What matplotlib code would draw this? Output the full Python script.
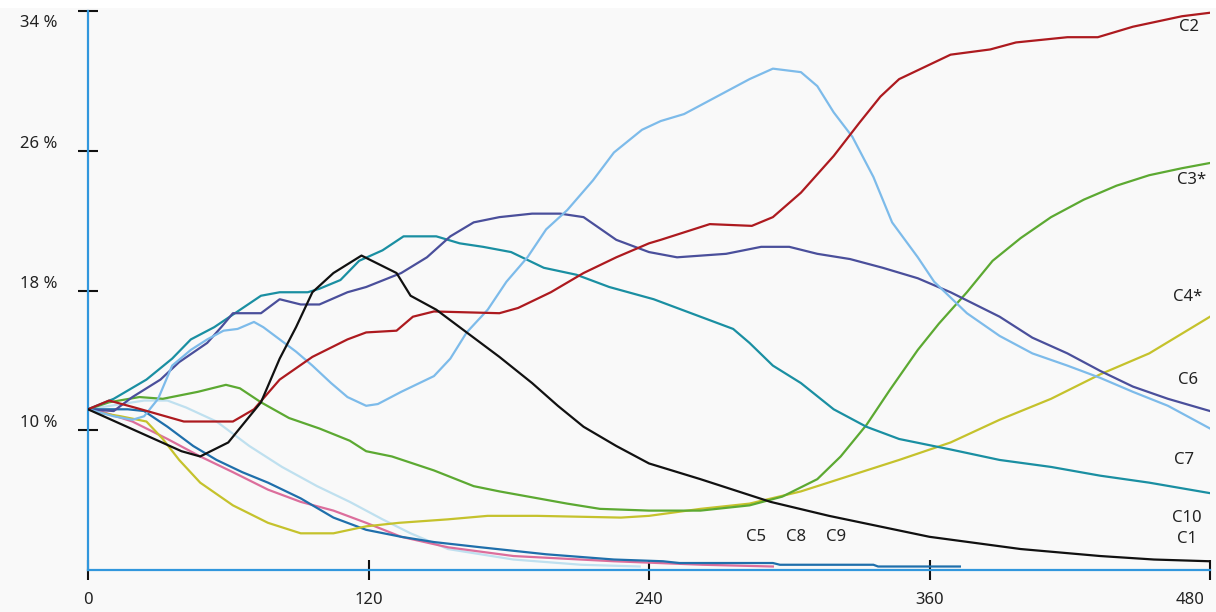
import matplotlib
matplotlib.use("Agg")
import matplotlib.pyplot as plt
from matplotlib.transforms import ScaledTranslation
from matplotlib.patches import Rectangle

plt.rcParams['font.family'] = ['Noto Sans', 'DejaVu Sans']

# series values (x = step, y = percent)
c1_x = [0, 20, 40, 48, 60, 74, 82, 89, 96, 105, 117, 132, 138, 149, 162, 176, 190, 201, 212, 226, 240,
        262, 292, 317, 360, 399, 433, 456, 480]
c1_y = [11.2, 10.0, 8.8, 8.5, 9.3, 11.6, 14.1, 15.9, 17.9, 19.0, 20.0, 19.0, 17.7, 16.9, 15.6, 14.2, 12.7,
        11.4, 10.2, 9.1, 8.1, 7.2, 5.9, 5.1, 3.9, 3.2, 2.8, 2.6, 2.5]

c2_x = [0, 9, 20, 41, 62, 71, 82, 96, 111, 119, 132, 139, 148, 176, 184, 198, 212, 226, 240, 245, 266,
        284, 293, 305, 319, 330, 339, 347, 369, 386, 397, 419, 432, 447, 468, 480]
c2_y = [11.2, 11.7, 11.3, 10.5, 10.5, 11.2, 12.9, 14.2, 15.2, 15.6, 15.7, 16.5, 16.8, 16.7, 17.0, 17.9,
        19.0, 19.9, 20.7, 20.9, 21.8, 21.7, 22.2, 23.6, 25.7, 27.6, 29.1, 30.1, 31.5, 31.8, 32.2, 32.5,
        32.5, 33.1, 33.7, 33.9]

c3_x = [0, 9, 22, 32, 47, 59, 65, 74, 86, 99, 112, 119, 130, 148, 165, 176, 205, 219, 240, 262, 283,
        297, 312, 322, 333, 343, 355, 364, 376, 387, 399, 412, 426, 440, 454, 468, 480]
c3_y = [11.2, 11.6, 11.9, 11.8, 12.2, 12.6, 12.4, 11.6, 10.7, 10.1, 9.4, 8.8, 8.5, 7.7, 6.8, 6.5, 5.8,
        5.5, 5.4, 5.4, 5.7, 6.2, 7.2, 8.5, 10.3, 12.3, 14.6, 16.1, 17.9, 19.7, 21.0, 22.2, 23.2, 24.0,
        24.6, 25.0, 25.3]

c4_x = [0, 5, 14, 25, 32, 39, 48, 62, 77, 91, 105, 119, 133, 154, 171, 192, 228, 240, 262, 283, 305,
        326, 347, 369, 390, 412, 433, 454, 480]
c4_y = [11.2, 11.0, 10.8, 10.5, 9.5, 8.3, 7.0, 5.7, 4.7, 4.1, 4.1, 4.5, 4.7, 4.9, 5.1, 5.1, 5.0, 5.1,
        5.5, 5.8, 6.5, 7.4, 8.3, 9.3, 10.6, 11.8, 13.2, 14.4, 16.5]

c5_x = [0, 17, 24, 34, 45, 55, 66, 77, 91, 105, 119, 134, 148, 168, 196, 225, 246, 253, 293, 296, 336,
        338, 373]
c5_y = [11.2, 11.2, 11.1, 10.2, 9.1, 8.3, 7.6, 7.0, 6.1, 5.0, 4.3, 3.9, 3.6, 3.3, 2.9, 2.6, 2.5, 2.4,
        2.4, 2.3, 2.3, 2.2, 2.2]

c6_x = [0, 11, 19, 31, 39, 51, 57, 62, 74, 82, 91, 99, 111, 119, 134, 145, 155, 165, 176, 190, 202,
        212, 226, 240, 252, 273, 288, 300, 312, 326, 340, 355, 369, 390, 404, 419, 433, 447, 462, 480]
c6_y = [11.2, 11.1, 11.9, 12.9, 13.9, 15.0, 15.9, 16.7, 16.7, 17.5, 17.2, 17.2, 17.9, 18.2, 19.0, 19.9,
        21.1, 21.9, 22.2, 22.4, 22.4, 22.2, 20.9, 20.2, 19.9, 20.1, 20.5, 20.5, 20.1, 19.8, 19.3, 18.7,
        17.9, 16.5, 15.3, 14.4, 13.4, 12.5, 11.8, 11.1]

c7_x = [0, 11, 19, 24, 30, 36, 44, 51, 58, 64, 71, 75, 82, 89, 96, 104, 111, 119, 124, 134, 148, 155,
        162, 171, 179, 188, 196, 205, 216, 225, 237, 245, 255, 269, 283, 293, 305, 312, 319, 327, 336,
        344, 355, 362, 376, 390, 404, 419, 433, 447, 462, 480]
c7_y = [11.2, 10.8, 10.6, 10.8, 11.8, 13.7, 14.6, 15.2, 15.7, 15.8, 16.2, 15.9, 15.2, 14.5, 13.7, 12.7,
        11.9, 11.4, 11.5, 12.2, 13.1, 14.1, 15.6, 16.9, 18.5, 19.9, 21.5, 22.6, 24.3, 25.9, 27.2, 27.7,
        28.1, 29.1, 30.1, 30.7, 30.5, 29.7, 28.2, 26.8, 24.5, 21.9, 19.9, 18.5, 16.7, 15.4, 14.4, 13.7,
        13.0, 12.2, 11.4, 10.1]

c8_x = [0, 5, 19, 34, 48, 62, 77, 91, 105, 119, 134, 154, 182, 225, 263, 293]
c8_y = [11.2, 11.1, 10.5, 9.5, 8.5, 7.6, 6.6, 5.9, 5.4, 4.7, 3.9, 3.3, 2.8, 2.5, 2.3, 2.2]

c9_x = [0, 24, 34, 42, 55, 69, 83, 98, 112, 126, 138, 154, 182, 211, 236]
c9_y = [11.2, 11.7, 11.7, 11.3, 10.5, 9.1, 7.9, 6.8, 5.9, 4.9, 4.1, 3.2, 2.6, 2.3, 2.2]

c10_x = [0, 11, 25, 36, 44, 54, 64, 74, 82, 94, 99, 108, 116, 126, 135, 149, 159, 169, 181, 195, 209,
         223, 242, 262, 276, 283, 293, 305, 319, 333, 347, 369, 390, 412, 433, 454, 480]
c10_y = [11.2, 11.8, 12.9, 14.1, 15.2, 15.9, 16.8, 17.7, 17.9, 17.9, 18.1, 18.6, 19.7, 20.3, 21.1, 21.1,
         20.7, 20.5, 20.2, 19.3, 18.9, 18.2, 17.5, 16.5, 15.8, 15.0, 13.7, 12.7, 11.2, 10.2, 9.5, 8.9,
         8.3, 7.9, 7.4, 7.0, 6.4]

names = ['C1', 'C2', 'C3*', 'C4*', 'C5', 'C6', 'C7', 'C8', 'C9', 'C10']
xs = [c1_x, c2_x, c3_x, c4_x, c5_x, c6_x, c7_x, c8_x, c9_x, c10_x]
ys = [c1_y, c2_y, c3_y, c4_y, c5_y, c6_y, c7_y, c8_y, c9_y, c10_y]
colors = ['#111111', '#ad1a1f', '#5ca932', '#c5c22c', '#1f6fab',
          '#4a4f9b', '#7dbbea', '#dc6e9c', '#bfe0ef', '#1a8fa2']

# where the series names sit (data coords)
label_pos = {'C1': (470, 3.8), 'C2': (471, 33.1), 'C3*': (472, 24.3), 'C4*': (470.5, 17.6),
             'C5': (286, 3.9), 'C6': (470.5, 12.9), 'C7': (469, 8.3), 'C8': (303, 3.9),
             'C9': (320, 3.9), 'C10': (470, 5.0)}

x_ticks = [0, 120, 240, 360, 480]
y_ticks = [10, 18, 26, 34]

bg = '#f9f9f9'
fig = plt.figure(figsize=(12.16, 6.12), dpi=100, facecolor=bg)
# thin white strip along the top edge
fig.patches.append(Rectangle((0, 604 / 612), 1, 8 / 612, transform=fig.transFigure,
                             facecolor='white', edgecolor='none', zorder=0))
ax = fig.add_axes([88 / 1216, 42 / 612, 1122 / 1216, 559 / 612])
ax.set_facecolor(bg)

order = [8, 7, 4, 3, 2, 9, 5, 6, 1, 0]
for i in order:
    ax.plot(xs[i], ys[i], color=colors[i], lw=1.6, solid_joinstyle='round', zorder=3)

ax.set_xlim(0, 480)
ax.set_ylim(2, 34)

for s in ['top', 'right']:
    ax.spines[s].set_visible(False)
for s in ['left', 'bottom']:
    ax.spines[s].set_color('#3197dd')
    ax.spines[s].set_linewidth(1.6)

ax.set_xticks(x_ticks)
ax.set_xticklabels([str(t) for t in x_ticks])
ax.set_yticks(y_ticks)
ax.set_yticklabels([])
ax.tick_params(axis='both', direction='inout', length=14, width=1.5, color='#111111',
               labelsize=12, labelcolor='#222222')
ax.tick_params(axis='x', pad=9)

# last x label is pulled in so it stays inside the picture
last = ax.get_xticklabels()[-1]
last.set_transform(last.get_transform() + ScaledTranslation(-20 / 100, 0, fig.dpi_scale_trans))

# y labels sit a little above their ticks (the top one below)
for t in y_ticks:
    dy = -12 if t == 34 else 7
    off = ScaledTranslation(-31 / 100, dy / 100, fig.dpi_scale_trans)
    ax.text(0, t, '%d %%' % t, transform=ax.get_yaxis_transform() + off,
            ha='right', va='center', fontsize=12, color='#222222')

for n in names:
    x, y = label_pos[n]
    ax.text(x, y, n, ha='center', va='center', fontsize=12, color='#222222', zorder=4)

fig.savefig('out.png', dpi=100, facecolor=bg)
